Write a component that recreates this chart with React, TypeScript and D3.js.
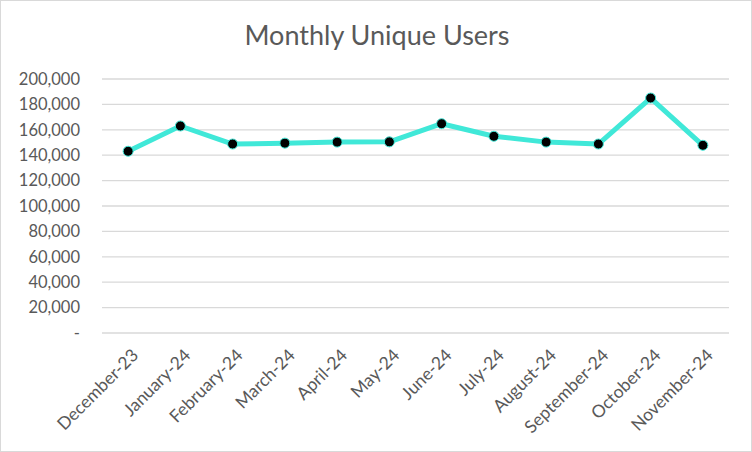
import React from "react";
import * as d3 from "d3";

const months = [
  "December-23", "January-24", "February-24", "March-24", "April-24", "May-24",
  "June-24", "July-24", "August-24", "September-24", "October-24", "November-24",
];
const users = [143100, 163000, 148800, 149500, 150300, 150500, 164800, 154900, 150300, 148800, 185000, 147800];
const yTicks = [0, 20000, 40000, 60000, 80000, 100000, 120000, 140000, 160000, 180000, 200000];

const W = 752, H = 452;
const left = 102, right = 729, top = 79, bottom = 333;
const font = "Lato, 'Open Sans', sans-serif";

export default function App() {
  const x = d3.scaleBand<string>().domain(months).range([left, right]);
  const y = d3.scaleLinear().domain([0, 200000]).range([bottom, top]);
  const cx = (m: string) => (x(m) as number) + x.bandwidth() / 2;
  const line = d3.line<number>().x((_, i) => cx(months[i])).y((d) => y(d));
  const fmt = d3.format(",");
  return (
    <svg width={W} height={H} style={{ position: "absolute", left: 0, top: 0 }}>
      <rect x={0.5} y={0.5} width={W - 1} height={H - 1} fill="#fff" stroke="#d9d9d9" />
      <text x={377} y={45} textAnchor="middle" fontFamily={font} fontSize={27} fill="#595959">
        Monthly Unique Users
      </text>
      {yTicks.map((t) => (
        <g key={t}>
          <line x1={left} x2={right} y1={y(t)} y2={y(t)} stroke="#d9d9d9" strokeWidth={1.3} />
          <text x={80} y={y(t)} dy="0.35em" textAnchor="end" fontFamily={font} fontSize={16.5} fill="#595959">
            {t === 0 ? "-" : fmt(t)}
          </text>
        </g>
      ))}
      {months.map((m) => (
        <text key={m} transform={`translate(${cx(m) + 7},${bottom + 19}) rotate(-45)`} textAnchor="end"
          fontFamily={font} fontSize={17.5} fill="#595959" dy="0.35em">
          {m}
        </text>
      ))}
      <path d={line(users) as string} fill="none" stroke="#40e8d8" strokeWidth={5} strokeLinejoin="round" />
      {users.map((v, i) => (
        <circle key={i} cx={cx(months[i])} cy={y(v)} r={5} fill="#000" stroke="#40e8d8" strokeWidth={1} />
      ))}
    </svg>
  );
}
